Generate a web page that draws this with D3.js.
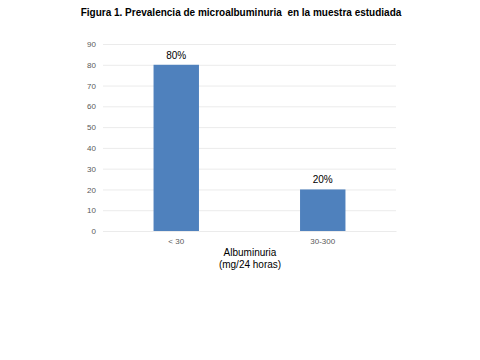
<!DOCTYPE html>
<html><head><meta charset="utf-8">
<script src="https://cdn.jsdelivr.net/npm/d3@7"></script>
<style>body{margin:0;background:#fff}svg{font-family:"Liberation Sans",Arial,sans-serif}</style>
</head><body><svg id="c" width="480" height="360"></svg>
<script>
const categories = ["< 30", "30-300"];
const values = [80, 20];
const valueLabels = ["80%", "20%"];
const yTicks = [0,10,20,30,40,50,60,70,80,90];

const svg = d3.select("#c");
const m = {l:103, r:396, t:44, b:231};
const x = d3.scaleBand().domain(categories).range([m.l, m.r]).paddingInner(0.69).paddingOuter(0.345);
const y = d3.scaleLinear().domain([0,90]).range([m.b, m.t]);

svg.append("text").attr("x",241).attr("y",16).attr("text-anchor","middle")
  .style("white-space","pre")
  .attr("font-size",10).attr("font-weight","bold").text("Figura 1. Prevalencia de microalbuminuria  en la muestra estudiada");

const ya = svg.append("g").attr("transform",`translate(${m.l},0)`)
  .call(d3.axisLeft(y).tickValues(yTicks).tickSize(-(m.r-m.l)).tickPadding(7));
ya.select(".domain").remove();
ya.selectAll(".tick line").attr("stroke","#ebebeb").attr("stroke-width",1);
ya.selectAll(".tick text").attr("fill","#595959").attr("font-size",8).attr("font-family","Liberation Sans, Arial, sans-serif");

svg.selectAll("rect.bar").data(values).enter().append("rect")
  .attr("x",(d,i)=>x(categories[i])).attr("y",d=>y(d))
  .attr("width",x.bandwidth()).attr("height",d=>y(0)-y(d)).attr("fill","#4f81bd");

svg.selectAll("text.vl").data(values).enter().append("text")
  .attr("x",(d,i)=>x(categories[i])+x.bandwidth()/2).attr("y",d=>y(d)-6)
  .attr("text-anchor","middle").attr("font-size",10).attr("fill","#000").text((d,i)=>valueLabels[i]);

const xa = svg.append("g").attr("transform",`translate(0,${m.b})`)
  .call(d3.axisBottom(x).tickSize(0).tickPadding(7));
xa.select(".domain").attr("stroke","#ebebeb");
xa.selectAll(".tick text").attr("fill","#595959").attr("font-size",8).attr("font-family","Liberation Sans, Arial, sans-serif");

svg.append("text").attr("x",250).attr("y",256).attr("text-anchor","middle").attr("font-size",10).text("Albuminuria");
svg.append("text").attr("x",250).attr("y",268).attr("text-anchor","middle").attr("font-size",10).text("(mg/24 horas)");
</script></body></html>
